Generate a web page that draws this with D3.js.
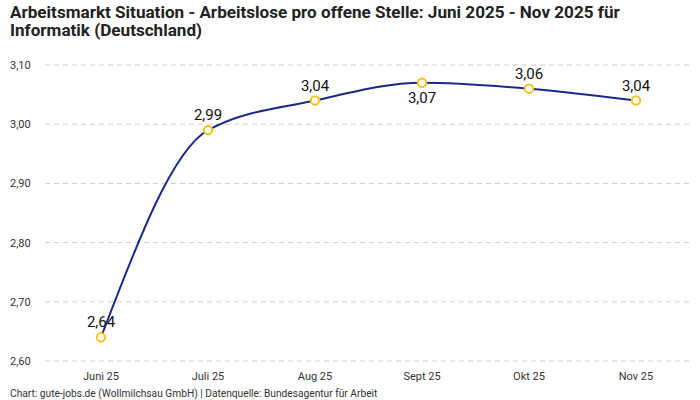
<!DOCTYPE html>
<html>
<head>
<meta charset="utf-8">
<script src="https://cdn.jsdelivr.net/npm/d3@7"></script>
<style>
body { margin: 0; background: #fff; }
svg { font-family: Roboto, "Noto Sans", sans-serif; display: block; }
</style>
</head>
<body>
<svg id="chart" width="700" height="400"></svg>
<script>
var months = ["Juni 25", "Juli 25", "Aug 25", "Sept 25", "Okt 25", "Nov 25"];
var values = [2.64, 2.99, 3.04, 3.07, 3.06, 3.04];
var labelPos = ["above", "above", "above", "below", "above", "above"];
var yTicks = [2.6, 2.7, 2.8, 2.9, 3.0, 3.1];

var svg = d3.select("#chart");
var fmt = function(v) { return d3.format(".2f")(v).replace(".", ","); };

// point scale with half step padding (step ~107px)
var x = d3.scalePoint().domain(months).range([47.5, 689.5]).padding(0.5);
var y = d3.scaleLinear().domain([2.6, 3.1]).range([361, 65]);

// title
var title = svg.append("text")
	.attr("font-size", 17.1)
	.attr("font-weight", "bold")
	.attr("fill", "#222");
title.append("tspan").attr("x", 10).attr("y", 18)
	.text("Arbeitsmarkt Situation - Arbeitslose pro offene Stelle: Juni 2025 - Nov 2025 für");
title.append("tspan").attr("x", 10).attr("y", 36)
	.text("Informatik (Deutschland)");

// gridlines + y labels
var yAxis = svg.append("g");
yAxis.selectAll("line")
	.data(yTicks)
	.enter().append("line")
	.attr("x1", 45)
	.attr("x2", 690)
	.attr("y1", function(d) { return y(d); })
	.attr("y2", function(d) { return y(d); })
	.attr("stroke", "#cccccc")
	.attr("stroke-dasharray", "5,4");
yAxis.selectAll("text")
	.data(yTicks)
	.enter().append("text")
	.attr("x", 10)
	.attr("y", function(d) { return y(d) + 4; })
	.attr("font-size", 11)
	.attr("fill", "#333")
	.text(fmt);

// x labels
svg.append("g").selectAll("text")
	.data(months)
	.enter().append("text")
	.attr("x", function(d) { return x(d); })
	.attr("y", 380)
	.attr("text-anchor", "middle")
	.attr("font-size", 11)
	.attr("fill", "#333")
	.text(function(d) { return d; });

// line
var line = d3.line()
	.x(function(d, i) { return x(months[i]); })
	.y(function(d) { return y(d); })
	.curve(d3.curveMonotoneX);

svg.append("path")
	.datum(values)
	.attr("d", line)
	.attr("fill", "none")
	.attr("stroke", "#1b2a8a")
	.attr("stroke-width", 2);

svg.append("g").selectAll("circle")
	.data(values)
	.enter().append("circle")
	.attr("cx", function(d, i) { return x(months[i]); })
	.attr("cy", function(d) { return y(d); })
	.attr("r", 4.2)
	.attr("fill", "#fff")
	.attr("stroke", "#f6c21c")
	.attr("stroke-width", 2);

svg.append("g").selectAll("text")
	.data(values)
	.enter().append("text")
	.attr("x", function(d, i) { return x(months[i]); })
	.attr("y", function(d, i) { return labelPos[i] == "above" ? y(d) - 10 : y(d) + 20; })
	.attr("text-anchor", "middle")
	.attr("font-size", 15)
	.attr("font-weight", 400)
	.attr("fill", "#111")
	.text(fmt);

// footer
svg.append("text")
	.attr("x", 10)
	.attr("y", 397)
	.attr("font-size", 10.2)
	.attr("fill", "#333")
	.text("Chart: gute-jobs.de (Wollmilchsau GmbH) | Datenquelle: Bundesagentur für Arbeit");
</script>
</body>
</html>
